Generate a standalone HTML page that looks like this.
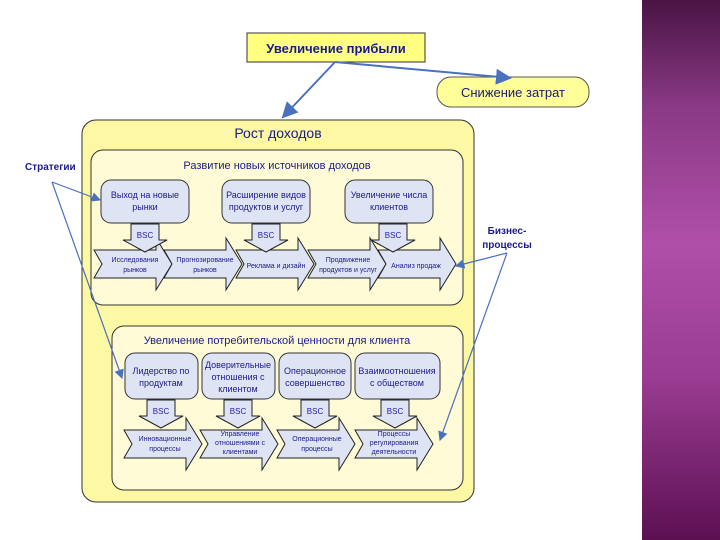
<!DOCTYPE html><html><head><meta charset="utf-8"><style>body{margin:0;width:720px;height:540px;background:#fff;overflow:hidden;position:relative;font-family:"Liberation Sans",sans-serif}
#p{position:absolute;left:642px;top:0;width:78px;height:540px;background:linear-gradient(#4a1444 0%,#8a3a86 20%,#b04fa8 45%,#9a3c92 70%,#5c1052 100%)}</style></head><body>
<div id="p"></div>
<svg width="720" height="540" style="position:absolute;left:0;top:0" font-family="Liberation Sans, sans-serif">
<defs><marker id="a" markerWidth="8" markerHeight="8" refX="7" refY="4" orient="auto"><path d="M0,0L8,4L0,8z" fill="#4a70c0"/></marker>
<g id="chev"><path d="M0,12H62V0L78,26L62,52V40H0L8,26z" fill="#dfe4f4" stroke="#222" stroke-width="1"/></g>
<g id="bsc"><path d="M-14,0H14V16H22L0,28L-22,16H-14z" fill="#dfe4f4" stroke="#222" stroke-width="1"/><text x="0" y="14" font-size="8" text-anchor="middle" fill="#2222aa">BSC</text></g>
</defs>
<rect x="247" y="33" width="178" height="29" fill="#ffff80" stroke="#333"/>
<text x="336" y="53" font-size="13" font-weight="bold" text-anchor="middle" fill="#1a1a8a">Увеличение прибыли</text>
<rect x="437" y="77" width="152" height="30" rx="14" fill="#ffff99" stroke="#555"/>
<text x="513" y="97" font-size="13" text-anchor="middle" fill="#1a1a6a">Снижение затрат</text>
<line x1="335" y1="62" x2="283" y2="117" stroke="#4a70c0" stroke-width="2" marker-end="url(#a)"/>
<line x1="335" y1="62" x2="510" y2="78" stroke="#4a70c0" stroke-width="2" marker-end="url(#a)"/>
<rect x="82" y="120" width="392" height="382" rx="14" fill="#fdf8a4" stroke="#333"/>
<text x="278" y="138" font-size="14" text-anchor="middle" fill="#1a1a8a">Рост доходов</text>
<rect x="91" y="150" width="372" height="155" rx="12" fill="#fffbd6" stroke="#333"/>
<text x="277" y="169" font-size="11" text-anchor="middle" fill="#1a1a8a">Развитие новых источников доходов</text>
<g font-size="9" fill="#1a1a8a" text-anchor="middle">
<rect x="101" y="180" width="88" height="43" rx="10" fill="#dfe4f4" stroke="#333"/><text x="145" y="198">Выход на новые</text><text x="145" y="210">рынки</text>
<rect x="222" y="180" width="88" height="43" rx="10" fill="#dfe4f4" stroke="#333"/><text x="266" y="198">Расширение видов</text><text x="266" y="210">продуктов и услуг</text>
<rect x="345" y="180" width="88" height="43" rx="10" fill="#dfe4f4" stroke="#333"/><text x="389" y="198">Увеличение числа</text><text x="389" y="210">клиентов</text>
</g>
<g font-size="7" fill="#1a1a8a" text-anchor="middle">
<use href="#chev" x="94" y="238"/><text x="135" y="262">Исследования</text><text x="135" y="272">рынков</text>
<use href="#chev" x="164" y="238"/><text x="205" y="262">Прогнозирование</text><text x="205" y="272">рынков</text>
<use href="#chev" x="236" y="238"/><text x="276" y="268">Реклама и дизайн</text>
<use href="#chev" x="308" y="238"/><text x="348" y="262">Продвижение</text><text x="348" y="272">продуктов и услуг</text>
<use href="#chev" x="378" y="238"/><text x="416" y="268">Анализ продаж</text>
</g>
<use href="#bsc" x="145" y="224"/><use href="#bsc" x="266" y="224"/><use href="#bsc" x="393" y="224"/>
<rect x="112" y="326" width="351" height="164" rx="12" fill="#fffbd6" stroke="#333"/>
<text x="277" y="344" font-size="11" text-anchor="middle" fill="#1a1a8a">Увеличение потребительской ценности для клиента</text>
<g font-size="9" fill="#1a1a8a" text-anchor="middle">
<rect x="125" y="353" width="73" height="46" rx="10" fill="#dfe4f4" stroke="#333"/><text x="161" y="374">Лидерство по</text><text x="161" y="386">продуктам</text>
<rect x="202" y="353" width="73" height="46" rx="10" fill="#dfe4f4" stroke="#333"/><text x="238" y="368">Доверительные</text><text x="238" y="380">отношения с</text><text x="238" y="392">клиентом</text>
<rect x="279" y="353" width="72" height="46" rx="10" fill="#dfe4f4" stroke="#333"/><text x="315" y="374">Операционное</text><text x="315" y="386">совершенство</text>
<rect x="355" y="353" width="85" height="46" rx="10" fill="#dfe4f4" stroke="#333"/><text x="397" y="374">Взаимоотношения</text><text x="397" y="386">с обществом</text>
</g>
<g font-size="7" fill="#1a1a8a" text-anchor="middle">
<use href="#chev" x="124" y="418"/><text x="165" y="441">Инновационные</text><text x="165" y="451">процессы</text>
<use href="#chev" x="200" y="418"/><text x="240" y="436">Управление</text><text x="240" y="445">отношениями с</text><text x="240" y="454">клиентами</text>
<use href="#chev" x="277" y="418"/><text x="317" y="441">Операционные</text><text x="317" y="451">процессы</text>
<use href="#chev" x="355" y="418"/><text x="394" y="436">Процессы</text><text x="394" y="445">регулирования</text><text x="394" y="454">деятельности</text>
</g>
<use href="#bsc" x="161" y="400"/><use href="#bsc" x="238" y="400"/><use href="#bsc" x="315" y="400"/><use href="#bsc" x="395" y="400"/>
<text x="25" y="170" font-size="10" font-weight="bold" fill="#1a1a8a">Стратегии</text>
<text x="507" y="234" font-size="10" font-weight="bold" fill="#1a1a8a" text-anchor="middle">Бизнес-</text>
<text x="507" y="248" font-size="10" font-weight="bold" fill="#1a1a8a" text-anchor="middle">процессы</text>
<g stroke="#4a70c0" stroke-width="1.2" fill="none">
<line x1="52" y1="182" x2="100" y2="200" marker-end="url(#a)"/>
<line x1="52" y1="182" x2="122" y2="378" marker-end="url(#a)"/>
<line x1="507" y1="253" x2="456" y2="266" marker-end="url(#a)"/>
<line x1="507" y1="253" x2="440" y2="440" marker-end="url(#a)"/>
</g>
</svg></body></html>
